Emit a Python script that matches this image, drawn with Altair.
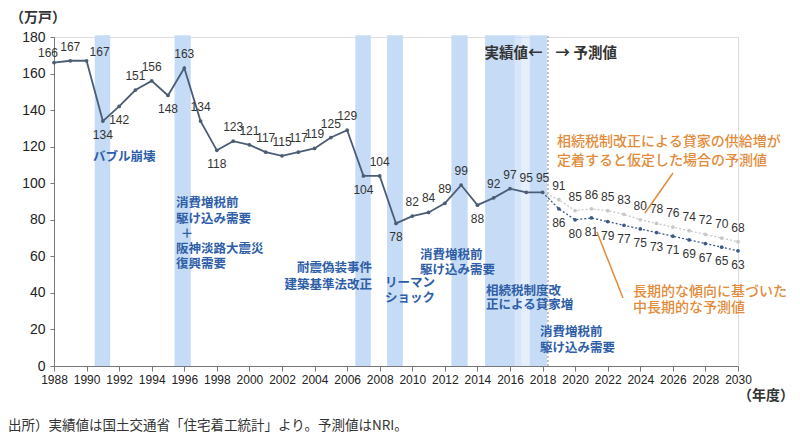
import altair as alt
import pandas as pd

# ---------------- data ----------------
years_actual = list(range(1988, 2019))
starts_actual = [166, 167, 167, 134, 142, 151, 156, 148, 163, 134, 118, 123, 121, 117, 115,
                 117, 119, 125, 129, 104, 104, 78, 82, 84, 89, 99, 88, 92, 97, 95, 95]
# label placement of actual values: a = above, b = below
label_side_actual = ["a", "a", "a", "b", "b", "a", "a", "b", "a", "a", "b", "a", "a", "a", "a",
                     "a", "a", "a", "a", "b", "a", "b", "a", "a", "a", "a", "b", "a", "a", "a", "a"]

years_fc = list(range(2019, 2031))
fc_high = [91, 85, 86, 85, 83, 80, 78, 76, 74, 72, 70, 68]   # 相続税制改正 scenario
fc_base = [86, 80, 81, 79, 77, 75, 73, 71, 69, 67, 65, 63]   # 長期的な傾向

band_start = [1990.5, 1995.4, 2006.5, 2008.45, 2012.4, 2014.47, 2016.3, 2016.7, 2017.2]
band_end = [1991.45, 1996.4, 2007.45, 2009.42, 2013.4, 2016.3, 2016.7, 2017.2, 2018.27]
band_alpha = [1, 1, 1, 1, 1, 1, 0.7, 0.45, 1]
divider_year = 2018.33

x_ticks = list(range(1988, 2031, 2))
y_ticks = list(range(0, 181, 20))

# ---------------- styles ----------------
BLUE_TXT = "#2f5ea8"
ORANGE = "#e38b3a"
LINE = "#4b5d75"
FC_DARK = "#3d5a86"
FC_LIGHT = "#c8c8c8"
BAND = "#c6dcf6"
NUM = "Liberation Sans, Arial, sans-serif"
JP = "Noto Sans CJK JP"

W, H = 684, 329
xs = alt.Scale(domain=[1988, 2030], nice=False, zero=False)
ys = alt.Scale(domain=[0, 180], nice=False)

AX = alt.Axis(values=x_ticks, format="d", title=None, grid=False, labelFontSize=12,
              labelFont=NUM, labelColor="#222", tickSize=5, tickColor="#777",
              domainColor="#777", labelPadding=3, labelFlush=False, labelOverlap=False)
AY = alt.Axis(values=y_ticks, title=None, grid=False, labelFontSize=14, labelFont=NUM,
              labelColor="#222", tickSize=4, tickColor="#777", domainColor="#777",
              labelPadding=5, labelOverlap=False)
X = alt.X("x:Q", scale=xs, axis=AX)
Y = alt.Y("y:Q", scale=ys, axis=AY)

bands = pd.DataFrame({"x": band_start, "x2": band_end, "a": band_alpha})
band_layer = alt.Chart(bands).mark_rect(color=BAND).encode(
    x=X, x2="x2:Q",
    y=alt.YDatum(0, scale=ys, axis=AY, type="quantitative"), y2=alt.datum(181),
    opacity=alt.Opacity("a:Q", scale=None, legend=None))

divider = alt.Chart(pd.DataFrame({"x": [divider_year]})).mark_rule(
    color="#8a8a8a", strokeDash=[2, 2], strokeWidth=1).encode(
    x=X, y=alt.YDatum(0, scale=ys, axis=AY, type="quantitative"), y2=alt.datum(181))

actual = pd.DataFrame({"x": years_actual, "y": starts_actual, "side": label_side_actual})
act_line = alt.Chart(actual).mark_line(color=LINE, strokeWidth=1.8).encode(x=X, y=Y)
act_pts = alt.Chart(actual).mark_circle(color=LINE, size=14, opacity=1).encode(x=X, y=Y)

fc_hi_df = pd.DataFrame({"x": [2018] + years_fc, "y": [starts_actual[-1]] + fc_high})
fc_lo_df = pd.DataFrame({"x": [2018] + years_fc, "y": [starts_actual[-1]] + fc_base})
fc_hi_line = alt.Chart(fc_hi_df).mark_line(color=FC_LIGHT, strokeWidth=1.3, strokeDash=[2, 2]).encode(x=X, y=Y)
fc_lo_line = alt.Chart(fc_lo_df).mark_line(color=FC_DARK, strokeWidth=1.3, strokeDash=[2, 2]).encode(x=X, y=Y)
fc_hi_pts = alt.Chart(fc_hi_df.iloc[1:]).mark_circle(color=FC_LIGHT, size=14, opacity=1).encode(x=X, y=Y)
fc_lo_pts = alt.Chart(fc_lo_df.iloc[1:]).mark_circle(color=FC_DARK, size=14, opacity=1).encode(x=X, y=Y)

lbl_kw = dict(font=NUM, fontSize=12, color="#333")
act_above = alt.Chart(actual).transform_filter("datum.side == 'a' && datum.x != 1988 && datum.x != 1990").mark_text(dy=-14, **lbl_kw).encode(x=X, y=Y, text="y:Q")
act_below = alt.Chart(actual).transform_filter("datum.side == 'b'").mark_text(dy=14, **lbl_kw).encode(x=X, y=Y, text="y:Q")
act_1988 = alt.Chart(actual).transform_filter("datum.x == 1988").mark_text(dx=-6, dy=-10, **lbl_kw).encode(x=X, y=Y, text="y:Q")
act_1990 = alt.Chart(actual).transform_filter("datum.x == 1990").mark_text(dx=13, dy=-9, **lbl_kw).encode(x=X, y=Y, text="y:Q")
fc_hi_lbl = alt.Chart(fc_hi_df.iloc[1:]).mark_text(dy=-14, **lbl_kw).encode(x=X, y=Y, text="y:Q")
fc_lo_lbl = alt.Chart(fc_lo_df.iloc[1:]).mark_text(dy=14, **lbl_kw).encode(x=X, y=Y, text="y:Q")

# ---------------- annotations ----------------
blue_left = pd.DataFrame({
    "x": [1990.39, 1995.49, 1995.49, 1995.49, 1995.49, 2008.32, 2008.32, 2010.47, 2010.47,
          2014.53, 2014.53, 2017.84, 2017.84],
    "y": [114.3, 89.2, 80.4, 64.0, 55.8, 45.4, 37.2, 60.7, 52.5, 41.0, 33.4, 18.6, 9.8],
    "t": ["バブル崩壊", "消費増税前", "駆け込み需要", "阪神淡路大震災", "復興需要", "リーマン", "ショック",
          "消費増税前", "駆け込み需要", "相続税制度改", "正による貸家増", "消費増税前", "駆け込み需要"]})
blue_right = pd.DataFrame({"x": [2007.53, 2007.53], "y": [53.6, 44.3], "t": ["耐震偽装事件", "建築基準法改正"]})
blue_center = pd.DataFrame({"x": [1996.17], "y": [72.2], "t": ["＋"]})
bkw = dict(font=JP, fontSize=12.5, fontWeight="bold", color=BLUE_TXT, baseline="middle")
ann_bl = alt.Chart(blue_left).mark_text(align="left", **bkw).encode(x=X, y=Y, text="t:N")
ann_br = alt.Chart(blue_right).mark_text(align="right", **bkw).encode(x=X, y=Y, text="t:N")
ann_bc = alt.Chart(blue_center).mark_text(align="center", **bkw).encode(x=X, y=Y, text="t:N")

orange_txt = pd.DataFrame({
    "x": [2018.89, 2018.89, 2023.55, 2023.55],
    "y": [122.5, 112.2, 40.5, 31.7],
    "t": ["相続税制改正による貸家の供給増が", "定着すると仮定した場合の予測値",
          "長期的な傾向に基づいた", "中長期的な予測値"]})
ann_or = alt.Chart(orange_txt).mark_text(align="left", baseline="middle", font=JP, fontSize=14,
                                          fontWeight=500, color=ORANGE).encode(x=X, y=Y, text="t:N")
leaders = pd.DataFrame({"x": [2026.01, 2021.34], "y": [105.6, 73.3],
                        "x2": [2024.29, 2022.94], "y2": [83.7, 37.2]})
ann_lead = alt.Chart(leaders).mark_rule(color=ORANGE, strokeWidth=1.5).encode(
    x=X, y=Y, x2="x2:Q", y2="y2:Q")

head = pd.DataFrame({"x": [2018.0, 2018.8], "y": [170.7, 170.7], "t": ["実績値←", "→ 予測値"],
                     "al": ["r", "l"]})
hkw = dict(baseline="middle", font=JP, fontSize=14.5, fontWeight="bold", color="#333")
head_r = alt.Chart(head).transform_filter("datum.al == 'r'").mark_text(align="right", **hkw).encode(x=X, y=Y, text="t:N")
head_l = alt.Chart(head).transform_filter("datum.al == 'l'").mark_text(align="left", **hkw).encode(x=X, y=Y, text="t:N")

unit_y = alt.Chart(pd.DataFrame({"t": ["（万戸）"]})).mark_text(
    font=JP, fontSize=14, fontWeight="bold", color="#333", align="center", baseline="middle").encode(
    x=alt.value(-16), y=alt.value(-19), text="t:N")
unit_x = alt.Chart(pd.DataFrame({"t": ["（年度）"]})).mark_text(
    font=JP, fontSize=14, fontWeight="bold", color="#333", align="center", baseline="middle").encode(
    x=alt.value(712), y=alt.value(359), text="t:N")
source = alt.Chart(pd.DataFrame({"t": ["出所）実績値は国土交通省「住宅着工統計」より。予測値はNRI。"]})).mark_text(
    font=JP, fontSize=13.5, color="#333", align="left", baseline="middle").encode(
    x=alt.value(-46), y=alt.value(389), text="t:N")

chart = alt.layer(
    band_layer, divider, act_line, fc_hi_line, fc_lo_line, act_pts, fc_hi_pts, fc_lo_pts,
    act_above, act_below, act_1988, act_1990, fc_hi_lbl, fc_lo_lbl,
    ann_bl, ann_br, ann_bc, ann_or, ann_lead, head_r, head_l, unit_y, unit_x, source
).properties(
    width=W, height=H,
    autosize=alt.AutoSizeParams(type="none"),
    padding={"left": 54, "top": 37, "right": 62, "bottom": 78},
).configure_view(stroke=None).configure(background="white")

chart.save("out.html", embed_options={"renderer": "svg", "actions": False})
